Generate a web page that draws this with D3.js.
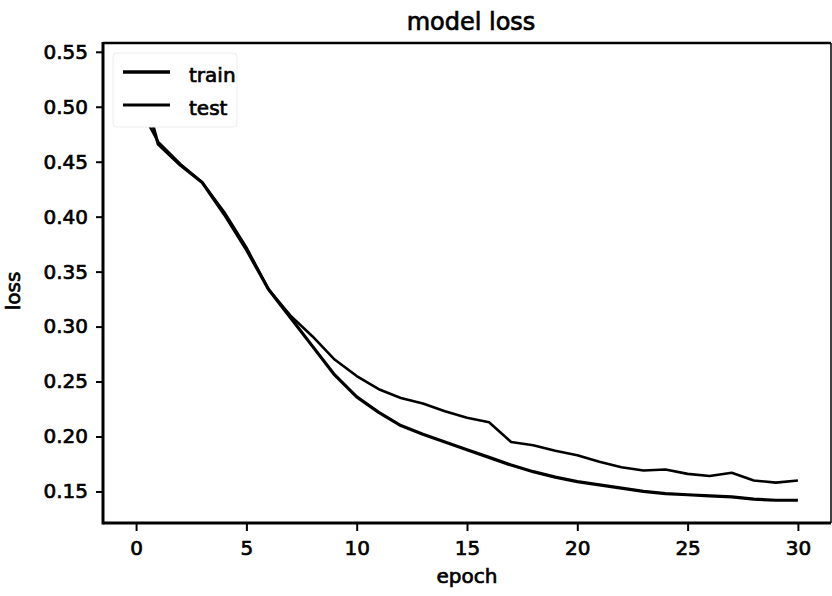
<!DOCTYPE html>
<html>
<head>
<meta charset="utf-8">
<script src="https://cdn.jsdelivr.net/npm/d3@7"></script>
<style>
  body { margin: 0; background: #fff; }
  svg { font-family: "DejaVu Sans", sans-serif; }
  /* the scanned original has heavy, inky text */
  svg text { fill: #000; stroke: #000; stroke-width: 0.7px; }
</style>
</head>
<body>
<script>
// ---- data ----
const epochs = d3.range(0, 31);
const trainLoss = [0.538, 0.466, 0.447, 0.431, 0.402, 0.370, 0.334, 0.308, 0.282, 0.256,
                   0.236, 0.222, 0.210, 0.202, 0.195, 0.188, 0.181, 0.174, 0.168, 0.163,
                   0.159, 0.156, 0.153, 0.150, 0.148, 0.147, 0.146, 0.145, 0.143, 0.142, 0.142];
const testLoss  = [0.505, 0.468, 0.448, 0.431, 0.404, 0.372, 0.334, 0.310, 0.291, 0.270,
                   0.255, 0.243, 0.235, 0.230, 0.223, 0.217, 0.213, 0.195, 0.192, 0.187,
                   0.183, 0.177, 0.172, 0.169, 0.170, 0.166, 0.164, 0.167, 0.160, 0.158, 0.160];
const xTicks = [0, 5, 10, 15, 20, 25, 30];
const yTicks = [0.15, 0.20, 0.25, 0.30, 0.35, 0.40, 0.45, 0.50, 0.55];
const seriesNames = ["train", "test"];

// ---- dimensions ----
const width = 832, height = 596;
const plotLeft = 103, plotRight = 831, plotTop = 43, plotBottom = 523;

const svg = d3.select("body").append("svg")
    .attr("width", width)
    .attr("height", height);

const x = d3.scaleLinear().domain([-1.5, 31.5]).range([plotLeft, plotRight]);
const y = d3.scaleLinear().domain([0.1213, 0.558]).range([plotBottom, plotTop]);

// ---- lines ----
const line = d3.line()
    .x((d, i) => x(epochs[i]))
    .y(d => y(d));

svg.append("path")
    .datum(testLoss)
    .attr("fill", "none")
    .attr("stroke", "#000")
    .attr("stroke-width", 2.6)
    .attr("stroke-linejoin", "round")
    .attr("d", line);

svg.append("path")
    .datum(trainLoss)
    .attr("fill", "none")
    .attr("stroke", "#000")
    .attr("stroke-width", 3.2)
    .attr("stroke-linejoin", "round")
    .attr("d", line);

// ---- axes ----
const xAxis = svg.append("g")
    .attr("transform", "translate(0," + plotBottom + ")")
    .call(d3.axisBottom(x).tickValues(xTicks).tickSize(8).tickPadding(10).tickFormat(d3.format("d")));
const yAxis = svg.append("g")
    .attr("transform", "translate(" + plotLeft + ",0)")
    .call(d3.axisLeft(y).tickValues(yTicks).tickSize(7).tickPadding(8).tickFormat(d3.format(".2f")));

[xAxis, yAxis].forEach(function(g) {
    g.select(".domain").remove();
    g.selectAll(".tick line").attr("stroke", "#000").attr("stroke-width", 2);
    g.selectAll(".tick text")
        .style("font-size", "20px")
        .style("font-family", "DejaVu Sans, sans-serif");
});

// spines
svg.append("line").attr("x1", plotLeft).attr("x2", plotRight).attr("y1", plotTop).attr("y2", plotTop)
    .attr("stroke", "#000").attr("stroke-width", 2.5);
svg.append("line").attr("x1", plotRight).attr("x2", plotRight).attr("y1", plotTop).attr("y2", plotBottom)
    .attr("stroke", "#000").attr("stroke-width", 1.5);
svg.append("line").attr("x1", plotLeft).attr("x2", plotLeft).attr("y1", plotTop - 1).attr("y2", plotBottom + 1.5)
    .attr("stroke", "#000").attr("stroke-width", 3);
svg.append("line").attr("x1", plotLeft).attr("x2", plotRight).attr("y1", plotBottom).attr("y2", plotBottom)
    .attr("stroke", "#000").attr("stroke-width", 3);

// ---- titles ----
svg.append("text")
    .attr("x", (plotLeft + plotRight) / 2 + 4)
    .attr("y", 30)
    .attr("text-anchor", "middle")
    .style("font-size", "24px")
    .text("model loss");

svg.append("text")
    .attr("x", (plotLeft + plotRight) / 2)
    .attr("y", 583)
    .attr("text-anchor", "middle")
    .style("font-size", "20px")
    .text("epoch");

svg.append("text")
    .attr("transform", "translate(20,291) rotate(-90)")
    .attr("text-anchor", "middle")
    .style("font-size", "20px")
    .text("loss");

// ---- legend ----
const legend = svg.append("g").attr("transform", "translate(113,53)");
legend.append("rect")
    .attr("width", 124)
    .attr("height", 74)
    .attr("rx", 4)
    .attr("fill", "#fff")
    .attr("stroke", "#ececec")
    .attr("stroke-width", 1);

const item = legend.selectAll(".legend-item")
    .data(seriesNames)
    .enter()
    .append("g")
    .attr("transform", (d, i) => "translate(0," + (19 + i * 33) + ")");
item.append("line")
    .attr("x1", 10).attr("x2", 57)
    .attr("stroke", "#000")
    .attr("stroke-width", (d, i) => i === 0 ? 3.4 : 3);
item.append("text")
    .attr("x", 76)
    .attr("y", 10)
    .style("font-size", "20px")
    .text(d => d);
</script>
</body>
</html>
